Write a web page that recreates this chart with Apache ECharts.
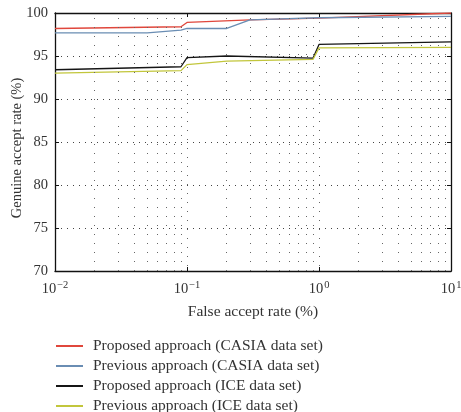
<!DOCTYPE html>
<html>
<head>
<meta charset="utf-8">
<script src="https://cdn.jsdelivr.net/npm/echarts@6/dist/echarts.min.js"></script>
<style>
  html, body { margin: 0; padding: 0; background: #fff; }
  #main { width: 461px; height: 412px; }
</style>
</head>
<body>
<div id="main"></div>
<script>
var seriesNames = [
    'Proposed approach (CASIA data set)',
    'Previous approach (CASIA data set)',
    'Proposed approach (ICE data set)',
    'Previous approach (ICE data set)'
];
// false accept rate (%) / genuine accept rate (%)
var redX = [0.01, 0.09, 0.1, 0.3, 1, 10];
var redY = [98.2, 98.4, 98.9, 99.2, 99.4, 100];
var blueX = [0.01, 0.05, 0.09, 0.1, 0.2, 0.3, 1, 10];
var blueY = [97.7, 97.7, 98.0, 98.2, 98.2, 99.2, 99.45, 99.6];
var blackX = [0.01, 0.09, 0.1, 0.2, 0.9, 1, 10];
var blackY = [93.4, 93.75, 94.8, 95.0, 94.75, 96.35, 96.65];
var yellowX = [0.01, 0.09, 0.1, 0.2, 0.9, 1, 10];
var yellowY = [93.0, 93.3, 94.0, 94.4, 94.6, 95.95, 96.0];
var minorX = [0.02, 0.03, 0.04, 0.05, 0.06, 0.07, 0.08, 0.09,
              0.2, 0.3, 0.4, 0.5, 0.6, 0.7, 0.8, 0.9,
              2, 3, 4, 5, 6, 7, 8, 9];
var colors = ['#e0473c', '#6a8db3', '#151515', '#c2c63c'];

var font = 'Liberation Serif';
var myChart = echarts.init(document.getElementById('main'));

function pairs(xs, ys) {
    return xs.map(function (x, i) { return [x, ys[i]]; });
}

var lines = [[redX, redY], [blueX, blueY], [blackX, blackY], [yellowX, yellowY]];
var series = [{
    name: 'grid',
    type: 'line',
    data: [],
    silent: true,
    markLine: {
        silent: true,
        symbol: 'none',
        label: { show: false },
        lineStyle: { color: '#666', width: 1, type: [1, 8] },
        data: minorX.map(function (v) { return { xAxis: v }; })
    }
}];
for (var i = 0; i < lines.length; i++) {
    series.push({
        name: seriesNames[i],
        type: 'line',
        symbol: 'none',
        lineStyle: { color: colors[i], width: 1.3 },
        itemStyle: { color: colors[i] },
        data: pairs(lines[i][0], lines[i][1])
    });
}

var option = {
    backgroundColor: '#fff',
    animation: false,
    textStyle: { fontFamily: font },
    grid: { left: 55, right: 10, top: 13, bottom: 141, show: false, containLabel: false, outerBoundsMode: 'none' },
    legend: {
        data: seriesNames,
        orient: 'vertical',
        left: 55,
        top: 338,
        height: 80,
        padding: 0,
        itemWidth: 27,
        itemHeight: 14,
        itemGap: 4,
        itemStyle: { opacity: 0 },
        textStyle: { fontFamily: font, fontSize: 15.5, color: '#333', padding: [0, 0, 0, 5] }
    },
    xAxis: [{
        type: 'log',
        logBase: 10,
        min: 0.01,
        max: 10,
        name: 'False accept rate (%)',
        nameLocation: 'middle',
        nameGap: 33,
        nameTextStyle: { fontFamily: font, fontSize: 15.5, color: '#333' },
        axisLine: { lineStyle: { color: '#111', width: 1.3 } },
        axisTick: { inside: true, length: 4, lineStyle: { color: '#111' } },
        axisLabel: {
            margin: 9,
            color: '#333',
            fontFamily: font,
            fontSize: 14.5,
            formatter: function (v) {
                var e = Math.round(Math.log(v) / Math.LN10);
                return '10{sup|' + (e < 0 ? '\u2212' + (-e) : e) + '}';
            },
            rich: { sup: { fontSize: 10.5, fontFamily: font, color: '#333', verticalAlign: 'top', padding: [0, 0, 8, 1] } }
        },
        splitLine: { show: true, lineStyle: { color: '#666', width: 1, type: [1, 8] } }
    }, {
        type: 'log',
        logBase: 10,
        min: 0.01,
        max: 10,
        position: 'top',
        axisLine: { lineStyle: { color: '#111', width: 1.3 } },
        axisTick: { inside: true, length: 4, lineStyle: { color: '#111' } },
        axisLabel: { show: false },
        splitLine: { show: false }
    }],
    yAxis: [{
        type: 'value',
        min: 70,
        max: 100,
        interval: 5,
        name: 'Genuine accept rate (%)',
        nameLocation: 'middle',
        nameGap: 30,
        nameMoveOverlap: false,
        nameTextStyle: { fontFamily: font, fontSize: 14.5, color: '#333', padding: [0, 12, 0, 0] },
        axisLine: { show: true, lineStyle: { color: '#111', width: 1.3 } },
        axisTick: { inside: true, length: 4, lineStyle: { color: '#111' } },
        axisLabel: { color: '#333', fontFamily: font, fontSize: 14.5, margin: 7 },
        splitLine: { show: true, lineStyle: { color: '#444', width: 1, type: [1, 5] } }
    }, {
        type: 'value',
        min: 70,
        max: 100,
        interval: 5,
        position: 'right',
        axisLine: { show: true, lineStyle: { color: '#111', width: 1.3 } },
        axisTick: { inside: true, length: 4, lineStyle: { color: '#111' } },
        axisLabel: { show: false },
        splitLine: { show: false }
    }],
    series: series
};

myChart.setOption(option);
</script>
</body>
</html>
